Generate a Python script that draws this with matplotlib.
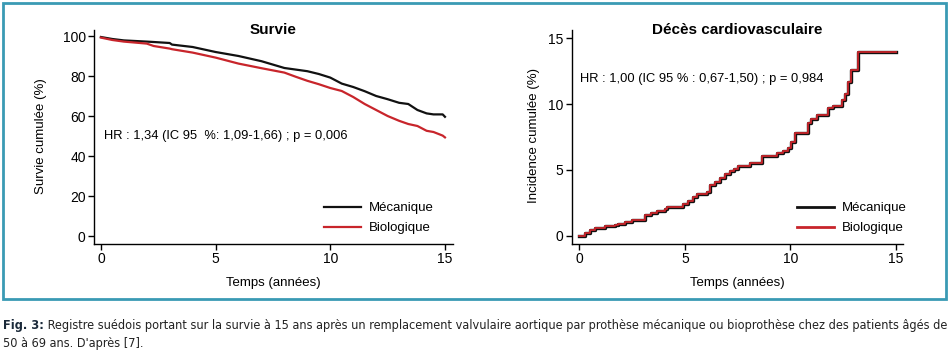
import matplotlib
matplotlib.use("Agg")
import matplotlib.pyplot as plt
from matplotlib import font_manager
from matplotlib.patches import Rectangle

plt.rcParams['font.family'] = ['Liberation Sans', 'DejaVu Sans']

# ---- data ----
surv_t = [0, 0.5, 1, 2, 2.3, 3, 3.1, 4, 5, 6, 7, 8, 8.5, 9, 9.5, 10, 10.5, 11, 11.5,
          12, 12.5, 13, 13.4, 13.8, 14.2, 14.5, 14.9, 15]
surv_meca = [99.5, 98.5, 97.8, 97.2, 97.0, 96.5, 95.7, 94.5, 92.0, 90.0, 87.4, 84.0, 83.2,
             82.4, 81.0, 79.2, 76.2, 74.5, 72.4, 70.0, 68.4, 66.6, 66.0, 63.0, 61.3, 60.8,
             60.8, 59.6]
surv_bio = [99.2, 98.0, 97.2, 96.2, 95.0, 93.7, 93.4, 91.7, 89.2, 86.2, 83.9, 81.7, 79.6,
            77.6, 75.9, 74.0, 72.5, 69.5, 66.0, 63.0, 60.0, 57.6, 56.0, 55.0, 52.6, 52.0,
            50.2, 49.3]

cv_t = [0, 0.27, 0.5, 0.74, 1.14, 1.2, 1.7, 1.85, 2.17, 2.48, 2.9, 3.1, 3.4, 3.67, 4.06,
        4.17, 4.7, 4.93, 5.17, 5.4, 5.56, 6.04, 6.2, 6.43, 6.67, 6.9, 7.14, 7.35, 7.54,
        8.1, 8.68, 9.36, 9.67, 9.91, 10.04, 10.23, 10.83, 11.0, 11.25, 11.8, 12.04,
        12.44, 12.6, 12.75, 12.88, 13.23, 15.0]
cv_inc = [0.0, 0.23, 0.43, 0.56, 0.6, 0.73, 0.8, 0.9, 1.04, 1.2, 1.2, 1.6, 1.7, 1.9, 2.0,
          2.15, 2.15, 2.4, 2.6, 2.96, 3.2, 3.34, 3.85, 4.05, 4.36, 4.66, 4.94, 5.1, 5.3,
          5.5, 6.08, 6.3, 6.46, 6.64, 7.14, 7.83, 8.6, 8.84, 9.17, 9.68, 9.88,
          10.3, 10.8, 11.7, 12.6, 13.99, 13.99]

labels = ["Mécanique", "Biologique"]
black = "#111111"
red = "#c8252b"

W, H = 950, 355
fig = plt.figure(figsize=(W / 100, H / 100), dpi=100)


def px_axes(x0, x1, y0, y1):
    return fig.add_axes([x0 / W, (H - y1) / H, (x1 - x0) / W, (y1 - y0) / H])


def style(ax):
    for s in ("top", "right"):
        ax.spines[s].set_visible(False)
    for s in ("left", "bottom"):
        ax.spines[s].set_linewidth(1.0)
    ax.tick_params(direction="out", length=4, width=1.0, labelsize=10, pad=2)


# ---- left panel: survival ----
ax1 = px_axes(94, 453, 30, 244)
ax1.plot(surv_t, surv_meca, color=black, lw=1.6, label=labels[0])
ax1.plot(surv_t, surv_bio, color=red, lw=1.6, label=labels[1])
ax1.set_xlim(-0.3, 15.35)
ax1.set_ylim(-4, 103)
ax1.set_xticks([0, 5, 10, 15])
ax1.set_yticks([0, 20, 40, 60, 80, 100])
style(ax1)
ax1.text(0.5, 1.0, "Survie", transform=ax1.transAxes, ha="center", va="center",
         fontsize=11, fontweight="bold")
ax1.set_ylabel("Survie cumulée (%)", fontsize=9.5)
ax1.yaxis.set_label_coords(-0.131, 0.505)
ax1.set_xlabel("Temps (années)", fontsize=9.5)
ax1.xaxis.set_label_coords(0.5, -0.154)
ax1.text(0.13, 50, "HR : 1,34 (IC 95  %: 1,09-1,66) ; p = 0,006", fontsize=9.3,
         va="center", ha="left")
ax1.legend(loc="center left", bbox_to_anchor=(0.641, 0.121), frameon=False,
           fontsize=9.5, handlelength=2.8, handletextpad=0.6, labelspacing=0.6,
           borderpad=0, borderaxespad=0)

# ---- right panel: cardiovascular death ----
ax2 = px_axes(572, 903, 30, 244)
ax2.step(cv_t, cv_inc, where="post", color=black, lw=2.4, label=labels[0])
ax2.step(cv_t, cv_inc, where="post", color=red, lw=1.3, label=labels[1])
ax2.set_xlim(-0.35, 15.34)
ax2.set_ylim(-0.63, 15.63)
ax2.set_xticks([0, 5, 10, 15])
ax2.set_yticks([0, 5, 10, 15])
style(ax2)
ax2.text(0.5, 1.0, "Décès cardiovasculaire", transform=ax2.transAxes, ha="center",
         va="center", fontsize=11, fontweight="bold")
ax2.set_ylabel("Incidence cumulée (%)", fontsize=9.5)
ax2.yaxis.set_label_coords(-0.097, 0.505)
ax2.set_xlabel("Temps (années)", fontsize=9.5)
ax2.xaxis.set_label_coords(0.5, -0.154)
ax2.text(0.03, 11.9, "HR : 1,00 (IC 95 % : 0,67-1,50) ; p = 0,984", fontsize=9.3,
         va="center", ha="left")
leg = ax2.legend(loc="center left", bbox_to_anchor=(0.680, 0.121), frameon=False,
                 fontsize=9.5, handlelength=2.8, handletextpad=0.6, labelspacing=0.6,
                 borderpad=0, borderaxespad=0)
for ln, c in zip(leg.get_lines(), [black, red]):
    ln.set_color(c)
    ln.set_linewidth(2.0)

# ---- frame around the panels ----
fig.patches.append(Rectangle((3 / W, (H - 299) / H), 943 / W, 296 / H,
                             transform=fig.transFigure, fill=False,
                             edgecolor="#3a9ab4", lw=2.0))

# ---- caption (narrow face if one is installed) ----
cap_props = dict(family=["Liberation Sans", "DejaVu Sans"])
try:
    font_manager.findfont("Liberation Sans Narrow", fallback_to_default=False)
    cap_props = dict(family=["Liberation Sans Narrow", "DejaVu Sans"])
except Exception:
    p = font_manager.findfont(font_manager.FontProperties(family="DejaVu Sans",
                                                          stretch="condensed"))
    if "Condensed" in p:
        cap_props = dict(family=["DejaVu Sans"], stretch="condensed")

line1 = ("Registre suédois portant sur la survie à 15 ans après un remplacement valvulaire "
         "aortique par prothèse mécanique ou bioprothèse chez des patients âgés de")
line2 = "50 à 69 ans. D'après [7]."
fs = 10.0
t0 = fig.text(3 / W, (H - 325) / H, "Fig. 3:", fontsize=fs, fontweight="bold",
              color="#1b2a3a", va="center", **cap_props)
t1 = fig.text(0, 0, " " + line1, fontsize=fs, color="#222222", va="center", **cap_props)
t2 = fig.text(3 / W, (H - 343) / H, line2, fontsize=fs, color="#222222", va="center",
              **cap_props)

# fit the first caption line to the frame width
r = fig.canvas.get_renderer()
for _ in range(3):
    w0 = t0.get_window_extent(r).width
    w1 = t1.get_window_extent(r).width
    fs = fs * (944 - 3) / (w0 + w1)
    for t in (t0, t1, t2):
        t.set_fontsize(fs)
    w0 = t0.get_window_extent(r).width
    t1.set_position((3 / W + w0 / W, (H - 325) / H))

fig.savefig("out.png", dpi=100)
